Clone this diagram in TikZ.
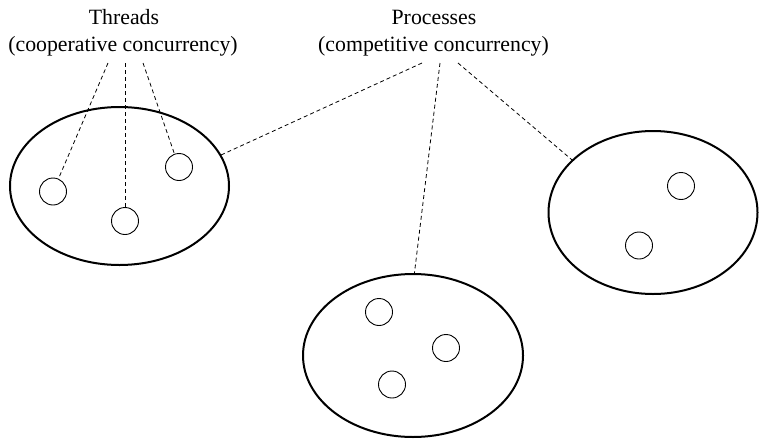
\documentclass[tikz,border=0pt]{standalone}
\usepackage{fontspec}
\setmainfont{Liberation Serif}
\usetikzlibrary{positioning,shapes.geometric}

\begin{document}
\begin{tikzpicture}[
  x=1pt, y=-1pt,
  every node/.style={font=\fontsize{21.8}{27}\selectfont},
  label/.style={anchor=base, inner sep=0pt},
  proc/.style={draw, ellipse, line width=2pt, inner sep=0pt},
  thread/.style={draw, circle, line width=0.9pt, minimum size=27pt, inner sep=0pt},
  link/.style={dashed, line width=0.8pt, dash pattern=on 4pt off 3pt}
]
  \useasboundingbox (0,0) rectangle (759,439);
  % texts
  \node[label] (threads) at (124,24) {Threads};
  \node[label] (coop) at (123,51) {(cooperative concurrency)};
  \node[label] (procs) at (434,24) {Processes};
  \node[label] (comp) at (433.5,51) {(competitive concurrency)};
  % processes
  \node[proc, minimum width=219pt, minimum height=158pt] (pleft) at (119.5,186) {};
  \node[proc, minimum width=209pt, minimum height=163pt] (pright) at (653,212.5) {};
  \node[proc, minimum width=220pt, minimum height=163pt] (pbottom) at (413,355.5) {};
  % threads
  \node[thread] (ta) at (53,191.5) {};
  \node[thread] (tb) at (125,221) {};
  \node[thread] (tc) at (179,167) {};
  \node[thread] (td) at (681,186) {};
  \node[thread] (te) at (639,245.5) {};
  \node[thread] (tf) at (379,312) {};
  \node[thread] (tg) at (446,348) {};
  \node[thread] (th) at (392,384.5) {};
  % starts of the links
  \coordinate (ca) at (108,63);
  \coordinate (cb) at (125,63);
  \coordinate (cc) at (143,63);
  \coordinate (cd) at (422,63);
  \coordinate (ce) at (440,63);
  \coordinate (cf) at (458,63);
  \draw[link] (ca) -- (ta);
  \draw[link] (cb) -- (tb);
  \draw[link] (cc) -- (tc);
  \draw[link] (cd) -- (pleft.17);
  \draw[link] (ce) -- (pbottom.89);
  \draw[link] (cf) -- (pright.147);
\end{tikzpicture}
\end{document}
